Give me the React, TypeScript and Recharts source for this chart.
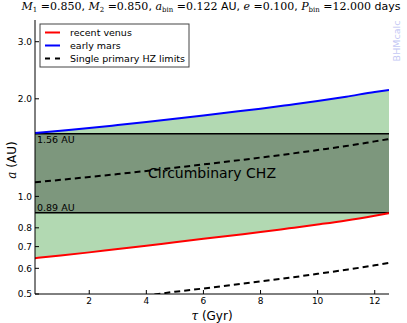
import { ComposedChart, Area, Line, XAxis, YAxis, ReferenceArea, ReferenceLine } from 'recharts';

// tau in Gyr, orbital distances in AU
const tau = [0.1, 1, 2, 3, 4, 5, 6, 7, 8, 9, 10, 11, 12, 12.5];
const recentVenus = [0.645, 0.657, 0.672, 0.688, 0.704, 0.722, 0.74, 0.758, 0.776, 0.797, 0.819, 0.843, 0.872, 0.888];
const earlyMars = [1.568, 1.595, 1.625, 1.66, 1.697, 1.736, 1.777, 1.82, 1.865, 1.915, 1.968, 2.03, 2.1, 2.13];
const singleInner = [0.458, 0.466, 0.475, 0.485, 0.495, 0.508, 0.52, 0.533, 0.547, 0.561, 0.577, 0.594, 0.613, 0.624];
const singleOuter = [1.105, 1.125, 1.148, 1.172, 1.198, 1.226, 1.255, 1.285, 1.318, 1.352, 1.39, 1.43, 1.478, 1.503];
const chzInner = 0.89;
const chzOuter = 1.56;
const xTicks = [2, 4, 6, 8, 10, 12];
const yTicks = [0.5, 0.6, 0.7, 0.8, 0.9, 1.0, 2.0, 3.0];

const data = tau.map((t, i) => ({
  tau: t,
  venus: recentVenus[i],
  mars: earlyMars[i],
  band: [recentVenus[i], earlyMars[i]],
  inner: singleInner[i],
  outer: singleOuter[i],
}));

const SANS = 'DejaVu Sans';
const SERIF = 'DejaVu Serif';

function Overlay() {
  const it = { fontFamily: SERIF, fontStyle: 'italic' as const };
  const num = { fontFamily: SERIF };
  const sub = { fontFamily: SERIF, fontSize: 7 };
  return (
    <svg width={407} height={323} style={{ position: 'absolute', left: 0, top: 0, pointerEvents: 'none' }}>
      <text x={211} y={10} textAnchor="middle" fontSize={11} fontFamily={SANS} fill="#000">
        <tspan {...it}>M</tspan><tspan {...sub} dy={2}>1</tspan>
        <tspan {...num} dy={-2}> =0.850</tspan><tspan>, </tspan>
        <tspan {...it}>M</tspan><tspan {...sub} dy={2}>2</tspan>
        <tspan {...num} dy={-2}> =0.850</tspan><tspan>, </tspan>
        <tspan {...it}>a</tspan><tspan {...sub} dy={2}>bin</tspan>
        <tspan {...num} dy={-2}> =0.122</tspan><tspan> AU, </tspan>
        <tspan {...it}>e</tspan>
        <tspan {...num}> =0.100</tspan><tspan>, </tspan>
        <tspan {...it}>P</tspan><tspan {...sub} dy={2}>bin</tspan>
        <tspan {...num} dy={-2}> =12.000</tspan><tspan> days</tspan>
      </text>

      <rect x={40} y={24} width={149} height={43} fill="#fff" stroke="#444" strokeWidth={1} />
      <line x1={45} x2={60} y1={32.5} y2={32.5} stroke="#ff0000" strokeWidth={2} />
      <line x1={45} x2={60} y1={45.5} y2={45.5} stroke="#0000ff" strokeWidth={2} />
      <line x1={45} x2={60} y1={58.5} y2={58.5} stroke="#000" strokeWidth={2} strokeDasharray="5 5" />
      <g fontFamily={SANS} fontSize={9.5} fill="#000">
        <text x={70} y={36}>recent venus</text>
        <text x={70} y={49}>early mars</text>
        <text x={70} y={62}>Single primary HZ limits</text>
      </g>

      <text transform="translate(400,41) rotate(-90)" textAnchor="middle" fontFamily={SANS} fontSize={9.5} fill="#c4c8f4">
        BHMcalc
      </text>

      <text transform="translate(16,160) rotate(-90)" textAnchor="middle" fontFamily={SANS} fontSize={12} fill="#000">
        <tspan {...it}>a</tspan><tspan> (AU)</tspan>
      </text>
      <text x={212} y={320} textAnchor="middle" fontFamily={SANS} fontSize={12} fill="#000">
        <tspan {...it}>τ</tspan><tspan> (Gyr)</tspan>
      </text>
    </svg>
  );
}

export default function App() {
  const tickStyle = { fill: '#000', fontSize: 9, fontFamily: SANS };
  return (
    <div style={{ position: 'absolute', left: 0, top: 0, width: 407, height: 323, background: '#fff' }}>
      <ComposedChart width={407} height={323} data={data} margin={{ top: 20, right: 18, left: 0, bottom: 0 }}>
        <XAxis
          dataKey="tau"
          type="number"
          domain={[0.1, 12.5]}
          ticks={xTicks}
          allowDataOverflow
          height={29}
          stroke="#000"
          tick={tickStyle}
          tickSize={-4}
          tickMargin={8}
        />
        <XAxis xAxisId="top" orientation="top" dataKey="tau" type="number" domain={[0.1, 12.5]} ticks={xTicks}
          allowDataOverflow height={0} stroke="#000" tick={false} tickSize={-4} />
        <YAxis
          scale="log"
          domain={[0.5, 3.5]}
          ticks={yTicks}
          allowDataOverflow
          width={35}
          stroke="#000"
          tick={tickStyle}
          tickSize={-4}
          tickMargin={7}
          tickFormatter={(v: number) => v.toFixed(1)}
        />
        <YAxis yAxisId="right" orientation="right" scale="log" domain={[0.5, 3.5]} ticks={yTicks}
          allowDataOverflow width={0} stroke="#000" tick={false} tickSize={-4} />

        <Area dataKey="band" type="monotone" fill="#b2d9b2" fillOpacity={1} stroke="none" isAnimationActive={false} />
        <ReferenceArea
          y1={chzInner}
          y2={chzOuter}
          fill="#7d977d"
          fillOpacity={1}
          stroke="none"
          label={{ value: 'Circumbinary CHZ', position: 'center', fontSize: 14, fontFamily: SANS, fill: '#000' }}
        />
        <ReferenceLine y={chzOuter} stroke="#000" strokeWidth={1.5}
          label={{ value: '1.56 AU', position: 'insideTopLeft', offset: 2, fontSize: 9.5, fontFamily: SANS, fill: '#000' }} />
        <ReferenceLine y={chzInner} stroke="#000" strokeWidth={1.5}
          label={{ value: '0.89 AU', position: 'insideBottomLeft', offset: 2, fontSize: 9.5, fontFamily: SANS, fill: '#000' }} />
        <Line dataKey="inner" type="monotone" stroke="#000" strokeWidth={2} strokeDasharray="6 4" dot={false} isAnimationActive={false} />
        <Line dataKey="outer" type="monotone" stroke="#000" strokeWidth={2} strokeDasharray="6 4" dot={false} isAnimationActive={false} />
        <Line dataKey="venus" type="monotone" stroke="#ff0000" strokeWidth={2} dot={false} isAnimationActive={false} />
        <Line dataKey="mars" type="monotone" stroke="#0000ff" strokeWidth={2} dot={false} isAnimationActive={false} />
      </ComposedChart>
      <Overlay />
    </div>
  );
}
